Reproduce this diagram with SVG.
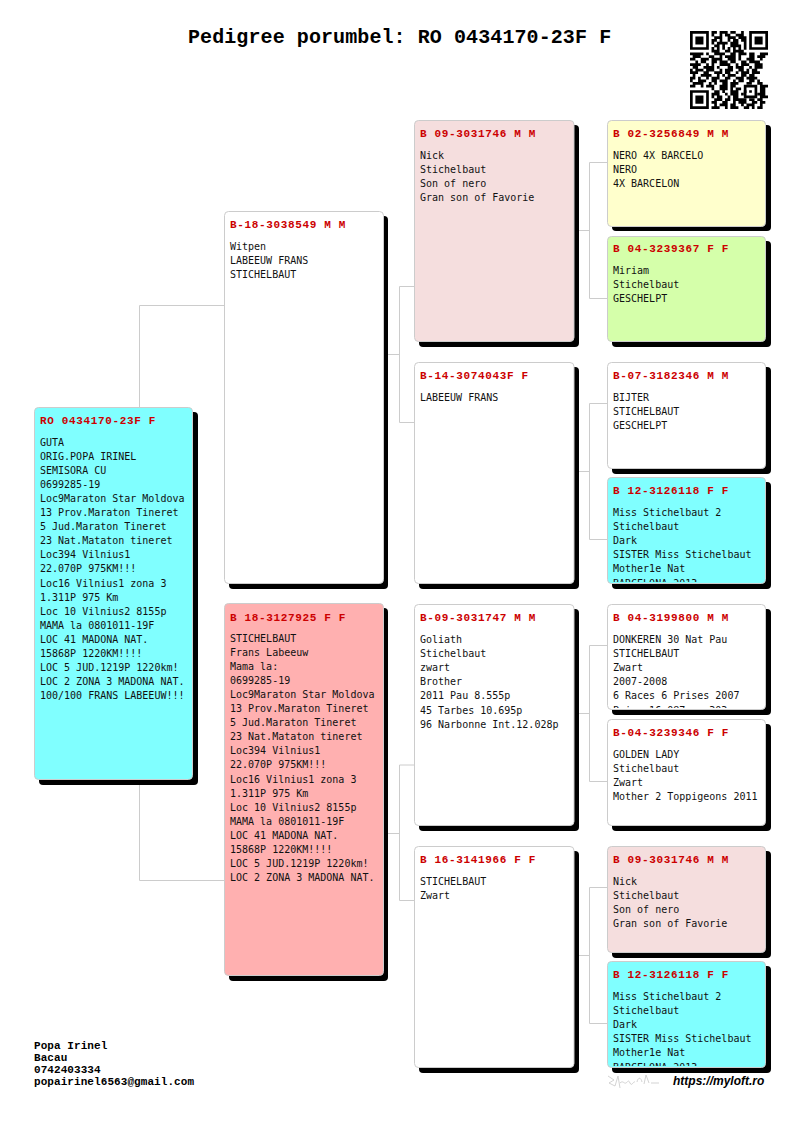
<svg xmlns="http://www.w3.org/2000/svg" width="800" height="1131" viewBox="0 0 800 1131">
<style>
text{white-space:pre}
.t{font:bold 20px "Liberation Mono",monospace;fill:#000;letter-spacing:.09px}
.h{font:bold 11px "Liberation Mono",monospace;fill:#cc0000;letter-spacing:.65px}
.b{font:10px "DejaVu Sans Mono",monospace;fill:#111}
.f{font:bold 11px "Liberation Mono",monospace;fill:#000;letter-spacing:.07px}
.u{font:italic bold 12px "Liberation Sans",sans-serif;fill:#000}
.c{fill:none;stroke:#ccc;stroke-width:1}
.s{fill:#000}
.r{stroke:#ccc;stroke-width:1}
.w{fill:#fff}.cy{fill:#80ffff}.pk{fill:#ffb0b0}.lp{fill:#f5dede}.ye{fill:#ffffcc}.gr{fill:#d5ffaa}
</style>
<defs>
<clipPath id="c1"><rect x="607" y="477" width="159" height="105"/></clipPath>
<clipPath id="c2"><rect x="607" y="604" width="159" height="104"/></clipPath>
<clipPath id="c3"><rect x="607" y="961" width="159" height="105"/></clipPath>
</defs>
<rect width="800" height="1131" fill="#fff"/>
<text class="t" x="188" y="42.500">Pedigree porumbel: RO 0434170-23F F</text>
<g id="qr" transform="translate(690 31) scale(2.69)">
<path fill="#000" fill-rule="evenodd" d="M0 0h7v7h-7zM1 1v5h5v-5zM2 2h3v3h-3zM22 0h7v7h-7zM23 1v5h5v-5zM24 2h3v3h-3zM0 22h7v7h-7zM1 23v5h5v-5zM2 24h3v3h-3zM20 20h5v5h-5zM21 21v3h3v-3zM22 22h1v1h-1z"/>
<path fill="none" stroke="#000" stroke-width="1.020" d="M8 .5h2m1 0h3m1 0h2m2 0h1M8 1.500h1m2 0h1m1 0h2m2 0h3M9 2.500h3m2 0h3m1 0h3M8 3.500h2m1 0h1m2 0h1m1 0h2m1 0h2M8 4.500h1m1 0h4m1 0h3m2 0h1M9 5.500h2m1 0h1m2 0h4m1 0h1M8 6.500h1m1 0h1m1 0h1m1 0h1m1 0h1m1 0h1m1 0h1M8 7.500h3m2 0h2m1 0h4M0 8.500h5m1 0h1m2 0h4m2 0h2m1 0h3m1 0h2m2 0h3M1 9.500h3m3 0h2m2 0h1m1 0h4m1 0h1m3 0h2m1 0h3M0 10.500h2m2 0h3m1 0h4m2 0h3m1 0h1m2 0h3m2 0h1M2 11.500h1m1 0h2m2 0h2m1 0h3m1 0h2m2 0h2m1 0h4M0 12.500h4m2 0h1m1 0h1m2 0h4m2 0h1m1 0h3m2 0h3M1 13.500h2m2 0h4m1 0h1m3 0h2m1 0h3m2 0h1m1 0h3M0 14.500h1m1 0h3m1 0h3m2 0h1m1 0h3m2 0h2m1 0h1m1 0h2M0 15.500h3m2 0h2m2 0h3m1 0h2m2 0h1m1 0h3m1 0h3M1 16.500h1m2 0h4m2 0h1m1 0h1m1 0h3m2 0h2m1 0h2M0 17.500h2m1 0h1m2 0h1m1 0h3m2 0h2m2 0h3m1 0h4M0 18.500h1m2 0h3m2 0h2m1 0h3m2 0h1m1 0h2m2 0h2m1 0h1M1 19.500h4m2 0h1m1 0h1m2 0h2m1 0h3m3 0h2m2 0h2M0 20.500h2m2 0h1m1 0h3m2 0h3m1 0h2M26 20.500h3M8 21.500h1m2 0h3m1 0h1m1 0h2M26 21.500h2M9 22.500h2m1 0h1m2 0h3m2 0h1M26 22.500h2M8 23.500h3m2 0h1m1 0h3m1 0h1M25 23.500h3M8 24.500h1m1 0h2m2 0h1m1 0h2M26 24.500h3M9 25.500h3m1 0h2m1 0h5m1 0h2m1 0h2M8 26.500h2m2 0h2m2 0h1m1 0h3m2 0h2m1 0h2M9 27.500h1m1 0h3m1 0h2m2 0h1m1 0h3m2 0h1M8 28.500h3m2 0h1m1 0h3m2 0h2m1 0h1m1 0h2"/>
</g>
<g id="connectors">
<path class="c" d="M224 305.500H139.500V880.500H224"/>
<path class="c" d="M384 354.500H399.500M415 286.500H399.500V422.500H415"/>
<path class="c" d="M384 833.500H399.500M415 765H399.500V900.500H415"/>
<path class="c" d="M575 230.500H589.500M607 162.500H589.500V298.500H607"/>
<path class="c" d="M575 471.500H589.500M607 403.500H589.500V539.500H607"/>
<path class="c" d="M575 713.500H589.500M607 645.500H589.500V781.500H607"/>
<path class="c" d="M575 955.500H589.500M607 887.500H589.500V1023.500H607"/>
</g>
<g id="root">
<rect class="s" x="39" y="412" width="159" height="373" rx="4"/>
<rect class="cy r" x="34.500" y="407.500" width="158" height="372" rx="4"/>
<text class="h" x="40" y="424">RO 0434170-23F F</text>
<text class="b" y="445.500"><tspan x="40">GUTA</tspan><tspan x="40" dy="14.100">ORIG.POPA IRINEL</tspan><tspan x="40" dy="14.100">SEMISORA CU</tspan><tspan x="40" dy="14.100">0699285-19</tspan><tspan x="40" dy="14.100">Loc9Maraton Star Moldova</tspan><tspan x="40" dy="14.100">13 Prov.Maraton Tineret</tspan><tspan x="40" dy="14.100">5 Jud.Maraton Tineret</tspan><tspan x="40" dy="14.100">23 Nat.Mataton tineret</tspan><tspan x="40" dy="14.100">Loc394 Vilnius1</tspan><tspan x="40" dy="14.100">22.070P 975KM!!!</tspan><tspan x="40" dy="14.100">Loc16 Vilnius1 zona 3</tspan><tspan x="40" dy="14.100">1.311P 975 Km</tspan><tspan x="40" dy="14.100">Loc 10 Vilnius2 8155p</tspan><tspan x="40" dy="14.100">MAMA la 0801011-19F</tspan><tspan x="40" dy="14.100">LOC 41 MADONA NAT.</tspan><tspan x="40" dy="14.100">15868P 1220KM!!!!</tspan><tspan x="40" dy="14.100">LOC 5 JUD.1219P 1220km!</tspan><tspan x="40" dy="14.100">LOC 2 ZONA 3 MADONA NAT.</tspan><tspan x="40" dy="14.100">100/100 FRANS LABEEUW!!!</tspan></text>
</g>
<g id="sire">
<rect class="s" x="229" y="216" width="159" height="373" rx="4"/>
<rect class="w r" x="224.500" y="211.500" width="159" height="372" rx="4"/>
<text class="h" x="230" y="228">B-18-3038549 M M</text>
<text class="b" y="250"><tspan x="230">Witpen</tspan><tspan x="230" dy="14.100">LABEEUW FRANS</tspan><tspan x="230" dy="14.100">STICHELBAUT</tspan></text>
</g>
<g id="dam">
<rect class="s" x="229" y="608" width="159" height="373" rx="4"/>
<rect class="pk r" x="224.500" y="603.500" width="159" height="372" rx="4"/>
<text class="h" x="230" y="621">B 18-3127925 F F</text>
<text class="b" y="641.500"><tspan x="230">STICHELBAUT</tspan><tspan x="230" dy="14.100">Frans Labeeuw</tspan><tspan x="230" dy="14.100">Mama la:</tspan><tspan x="230" dy="14.100">0699285-19</tspan><tspan x="230" dy="14.100">Loc9Maraton Star Moldova</tspan><tspan x="230" dy="14.100">13 Prov.Maraton Tineret</tspan><tspan x="230" dy="14.100">5 Jud.Maraton Tineret</tspan><tspan x="230" dy="14.100">23 Nat.Mataton tineret</tspan><tspan x="230" dy="14.100">Loc394 Vilnius1</tspan><tspan x="230" dy="14.100">22.070P 975KM!!!</tspan><tspan x="230" dy="14.100">Loc16 Vilnius1 zona 3</tspan><tspan x="230" dy="14.100">1.311P 975 Km</tspan><tspan x="230" dy="14.100">Loc 10 Vilnius2 8155p</tspan><tspan x="230" dy="14.100">MAMA la 0801011-19F</tspan><tspan x="230" dy="14.100">LOC 41 MADONA NAT.</tspan><tspan x="230" dy="14.100">15868P 1220KM!!!!</tspan><tspan x="230" dy="14.100">LOC 5 JUD.1219P 1220km!</tspan><tspan x="230" dy="14.100">LOC 2 ZONA 3 MADONA NAT.</tspan></text>
</g>
<g id="g2a">
<rect class="s" x="419" y="125" width="160" height="222" rx="4"/>
<rect class="lp r" x="414.500" y="120.500" width="159.500" height="221" rx="4"/>
<text class="h" x="420" y="137">B 09-3031746 M M</text>
<text class="b" y="159"><tspan x="420">Nick</tspan><tspan x="420" dy="14.100">Stichelbaut</tspan><tspan x="420" dy="14.100">Son of nero</tspan><tspan x="420" dy="14.100">Gran son of Favorie</tspan></text>
</g>
<g id="g2b">
<rect class="s" x="419" y="367" width="160" height="222" rx="4"/>
<rect class="w r" x="414.500" y="362.500" width="159.500" height="221" rx="4"/>
<text class="h" x="420" y="379">B-14-3074043F F</text>
<text class="b" y="401"><tspan x="420">LABEEUW FRANS</tspan></text>
</g>
<g id="g2c">
<rect class="s" x="419" y="609" width="160" height="222" rx="4"/>
<rect class="w r" x="414.500" y="604.500" width="159.500" height="221" rx="4"/>
<text class="h" x="420" y="621">B-09-3031747 M M</text>
<text class="b" y="643"><tspan x="420">Goliath</tspan><tspan x="420" dy="14.100">Stichelbaut</tspan><tspan x="420" dy="14.100">zwart</tspan><tspan x="420" dy="14.100">Brother</tspan><tspan x="420" dy="14.100">2011 Pau 8.555p</tspan><tspan x="420" dy="14.100">45 Tarbes 10.695p</tspan><tspan x="420" dy="14.100">96 Narbonne Int.12.028p</tspan></text>
</g>
<g id="g2d">
<rect class="s" x="419" y="851" width="160" height="222" rx="4"/>
<rect class="w r" x="414.500" y="846.500" width="159.500" height="221" rx="4"/>
<text class="h" x="420" y="863">B 16-3141966 F F</text>
<text class="b" y="885"><tspan x="420">STICHELBAUT</tspan><tspan x="420" dy="14.100">Zwart</tspan></text>
</g>
<g id="g3a">
<rect class="s" x="612" y="125" width="159" height="106" rx="4"/>
<rect class="ye r" x="607.500" y="120.500" width="158" height="106" rx="4"/>
<text class="h" x="613" y="137">B 02-3256849 M M</text>
<text class="b" y="159"><tspan x="613">NERO 4X BARCELO</tspan><tspan x="613" dy="14.100">NERO</tspan><tspan x="613" dy="14.100">4X BARCELON</tspan></text>
</g>
<g id="g3b">
<rect class="s" x="612" y="241" width="159" height="106" rx="4"/>
<rect class="gr r" x="607.500" y="236.500" width="158" height="105" rx="4"/>
<text class="h" x="613" y="252">B 04-3239367 F F</text>
<text class="b" y="274"><tspan x="613">Miriam</tspan><tspan x="613" dy="14.100">Stichelbaut</tspan><tspan x="613" dy="14.100">GESCHELPT</tspan></text>
</g>
<g id="g3c">
<rect class="s" x="612" y="367" width="159" height="107" rx="4"/>
<rect class="w r" x="607.500" y="362.500" width="158" height="106" rx="4"/>
<text class="h" x="613" y="379">B-07-3182346 M M</text>
<text class="b" y="401"><tspan x="613">BIJTER</tspan><tspan x="613" dy="14.100">STICHELBAUT</tspan><tspan x="613" dy="14.100">GESCHELPT</tspan></text>
</g>
<g id="g3d">
<rect class="s" x="612" y="482" width="159" height="107" rx="4"/>
<rect class="cy r" x="607.500" y="477.500" width="158" height="106" rx="4"/>
<text class="h" x="613" y="494">B 12-3126118 F F</text>
<text class="b" y="516" clip-path="url(#c1)"><tspan x="613">Miss Stichelbaut 2</tspan><tspan x="613" dy="14.100">Stichelbaut</tspan><tspan x="613" dy="14.100">Dark</tspan><tspan x="613" dy="14.100">SISTER Miss Stichelbaut</tspan><tspan x="613" dy="14.100">Mother1e Nat</tspan><tspan x="613" dy="14.100">BARCELONA 2013</tspan></text>
</g>
<g id="g3e">
<rect class="s" x="612" y="609" width="159" height="106" rx="4"/>
<rect class="w r" x="607.500" y="604.500" width="158" height="105" rx="4"/>
<text class="h" x="613" y="621">B 04-3199800 M M</text>
<text class="b" y="643" clip-path="url(#c2)"><tspan x="613">DONKEREN 30 Nat Pau</tspan><tspan x="613" dy="14.100">STICHELBAUT</tspan><tspan x="613" dy="14.100">Zwart</tspan><tspan x="613" dy="14.100">2007-2008</tspan><tspan x="613" dy="14.100">6 Races 6 Prises 2007</tspan><tspan x="613" dy="14.100">Prize 16.087p - 303</tspan></text>
</g>
<g id="g3f">
<rect class="s" x="612" y="724" width="159" height="107" rx="4"/>
<rect class="w r" x="607.500" y="719.500" width="158" height="106" rx="4"/>
<text class="h" x="613" y="736">B-04-3239346 F F</text>
<text class="b" y="758"><tspan x="613">GOLDEN LADY</tspan><tspan x="613" dy="14.100">Stichelbaut</tspan><tspan x="613" dy="14.100">Zwart</tspan><tspan x="613" dy="14.100">Mother 2 Toppigeons 2011</tspan></text>
</g>
<g id="g3g">
<rect class="s" x="612" y="851" width="159" height="107" rx="4"/>
<rect class="lp r" x="607.500" y="846.500" width="158" height="106" rx="4"/>
<text class="h" x="613" y="863">B 09-3031746 M M</text>
<text class="b" y="885"><tspan x="613">Nick</tspan><tspan x="613" dy="14.100">Stichelbaut</tspan><tspan x="613" dy="14.100">Son of nero</tspan><tspan x="613" dy="14.100">Gran son of Favorie</tspan></text>
</g>
<g id="g3h">
<rect class="s" x="612" y="966" width="159" height="107" rx="4"/>
<rect class="cy r" x="607.500" y="961.500" width="158" height="106" rx="4"/>
<text class="h" x="613" y="978">B 12-3126118 F F</text>
<text class="b" y="1000" clip-path="url(#c3)"><tspan x="613">Miss Stichelbaut 2</tspan><tspan x="613" dy="14.100">Stichelbaut</tspan><tspan x="613" dy="14.100">Dark</tspan><tspan x="613" dy="14.100">SISTER Miss Stichelbaut</tspan><tspan x="613" dy="14.100">Mother1e Nat</tspan><tspan x="613" dy="14.100">BARCELONA 2013</tspan></text>
</g>
<g id="footer">
<text class="f" y="1049"><tspan x="34">Popa Irinel</tspan><tspan x="34" dy="12">Bacau</tspan><tspan x="34" dy="12">0742403334</tspan><tspan x="34" dy="12">popairinel6563@gmail.com</tspan></text>
<path d="M608 1076l6 4-5 3 6 3 3-10 2 12M620 1083c3-3 4 1 6 0s2-4 4 0 3-2 5-1M637 1082c1-5 4-5 5 0M644 1084l2-9 3 8M651 1083h8" fill="none" stroke="#c8c8c8" stroke-width=".8"/>
<text class="u" x="673" y="1085">https://myloft.ro</text>
</g>
</svg>
